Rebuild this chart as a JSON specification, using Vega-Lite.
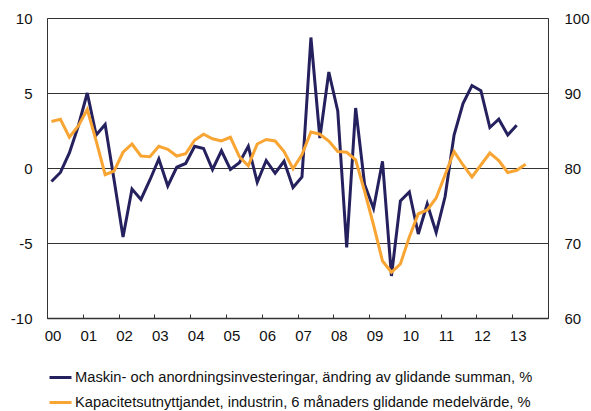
{
  "$schema": "https://vega.github.io/schema/vega-lite/v6.json",
  "width": 501,
  "height": 300,
  "autosize": {"type": "none"},
  "padding": {"left": 47, "top": 18, "right": 43, "bottom": 93},
  "background": "white",
  "config": {
    "font": "Liberation Sans",
    "view": {"stroke": "#333333", "strokeWidth": 1},
    "axis": {"labelFontSize": 15, "labelColor": "#111111", "labelFont": "Liberation Sans"},
    "axisX": {"labelOverlap": false, "labelBound": false}
  },
  "datasets": {
    "inv": [
      {"t": 2000.125, "v": -0.9}, {"t": 2000.375, "v": -0.3}, {"t": 2000.625, "v": 1.0}, {"t": 2000.875, "v": 2.8},
      {"t": 2001.125, "v": 5.0}, {"t": 2001.375, "v": 2.2}, {"t": 2001.625, "v": 2.9}, {"t": 2001.875, "v": -0.8},
      {"t": 2002.125, "v": -4.6}, {"t": 2002.375, "v": -1.4}, {"t": 2002.625, "v": -2.1}, {"t": 2002.875, "v": -0.8},
      {"t": 2003.125, "v": 0.6}, {"t": 2003.375, "v": -1.2}, {"t": 2003.625, "v": 0.05}, {"t": 2003.875, "v": 0.3},
      {"t": 2004.125, "v": 1.45}, {"t": 2004.375, "v": 1.3}, {"t": 2004.625, "v": -0.1}, {"t": 2004.875, "v": 1.15},
      {"t": 2005.125, "v": -0.1}, {"t": 2005.375, "v": 0.35}, {"t": 2005.625, "v": 1.45}, {"t": 2005.875, "v": -0.95},
      {"t": 2006.125, "v": 0.5}, {"t": 2006.375, "v": -0.35}, {"t": 2006.625, "v": 0.45}, {"t": 2006.875, "v": -1.3},
      {"t": 2007.125, "v": -0.6}, {"t": 2007.375, "v": 8.7}, {"t": 2007.625, "v": 2.0}, {"t": 2007.875, "v": 6.4},
      {"t": 2008.125, "v": 3.8}, {"t": 2008.375, "v": -5.3}, {"t": 2008.625, "v": 4.0}, {"t": 2008.875, "v": -1.1},
      {"t": 2009.125, "v": -2.7}, {"t": 2009.375, "v": 0.45}, {"t": 2009.625, "v": -7.2}, {"t": 2009.875, "v": -2.2},
      {"t": 2010.125, "v": -1.6}, {"t": 2010.375, "v": -4.4}, {"t": 2010.625, "v": -2.4}, {"t": 2010.875, "v": -4.3},
      {"t": 2011.125, "v": -1.9}, {"t": 2011.375, "v": 2.2}, {"t": 2011.625, "v": 4.3}, {"t": 2011.875, "v": 5.5},
      {"t": 2012.125, "v": 5.15}, {"t": 2012.375, "v": 2.7}, {"t": 2012.625, "v": 3.25}, {"t": 2012.875, "v": 2.2},
      {"t": 2013.125, "v": 2.85}
    ],
    "cap": [
      {"t": 2000.125, "v": 86.2}, {"t": 2000.375, "v": 86.5}, {"t": 2000.625, "v": 84.1}, {"t": 2000.875, "v": 85.6},
      {"t": 2001.125, "v": 87.8}, {"t": 2001.375, "v": 83.6}, {"t": 2001.625, "v": 79.1}, {"t": 2001.875, "v": 79.6},
      {"t": 2002.125, "v": 82.1}, {"t": 2002.375, "v": 83.2}, {"t": 2002.625, "v": 81.6}, {"t": 2002.875, "v": 81.5},
      {"t": 2003.125, "v": 82.9}, {"t": 2003.375, "v": 82.5}, {"t": 2003.625, "v": 81.6}, {"t": 2003.875, "v": 81.9},
      {"t": 2004.125, "v": 83.7}, {"t": 2004.375, "v": 84.5}, {"t": 2004.625, "v": 83.9}, {"t": 2004.875, "v": 83.6},
      {"t": 2005.125, "v": 84.1}, {"t": 2005.375, "v": 81.5}, {"t": 2005.625, "v": 80.3}, {"t": 2005.875, "v": 83.2},
      {"t": 2006.125, "v": 83.8}, {"t": 2006.375, "v": 83.6}, {"t": 2006.625, "v": 82.2}, {"t": 2006.875, "v": 79.9},
      {"t": 2007.125, "v": 81.8}, {"t": 2007.375, "v": 84.8}, {"t": 2007.625, "v": 84.5}, {"t": 2007.875, "v": 83.6},
      {"t": 2008.125, "v": 82.2}, {"t": 2008.375, "v": 82.1}, {"t": 2008.625, "v": 81.1}, {"t": 2008.875, "v": 76.9},
      {"t": 2009.125, "v": 72.4}, {"t": 2009.375, "v": 67.6}, {"t": 2009.625, "v": 66.1}, {"t": 2009.875, "v": 67.2},
      {"t": 2010.125, "v": 70.8}, {"t": 2010.375, "v": 73.9}, {"t": 2010.625, "v": 74.4}, {"t": 2010.875, "v": 76.0},
      {"t": 2011.125, "v": 79.1}, {"t": 2011.375, "v": 82.2}, {"t": 2011.625, "v": 80.4}, {"t": 2011.875, "v": 78.8},
      {"t": 2012.125, "v": 80.4}, {"t": 2012.375, "v": 82.0}, {"t": 2012.625, "v": 81.0}, {"t": 2012.875, "v": 79.4},
      {"t": 2013.125, "v": 79.7}, {"t": 2013.375, "v": 80.5}
    ]
  },
  "encoding": {
    "x": {
      "field": "t", "type": "quantitative",
      "scale": {"domain": [2000, 2014], "nice": false, "zero": false},
      "axis": {
        "title": null, "values": [2000, 2001, 2002, 2003, 2004, 2005, 2006, 2007, 2008, 2009, 2010, 2011, 2012, 2013],
        "format": "d", "labelExpr": "slice(datum.label, 2)", "labelOffset": 5.5, "labelAngle": 0,
        "tickSize": -4, "tickColor": "#333333", "tickWidth": 1, "grid": false, "domain": true, "domainColor": "#333333",
        "domainWidth": 1.5, "labelPadding": 14, "labelFlush": false, "labelOverlap": false, "labelBound": false
      }
    }
  },
  "layer": [
    {
      "data": {"name": "inv"},
      "mark": {"type": "line", "strokeWidth": 3, "strokeJoin": "miter"},
      "encoding": {
        "y": {
          "field": "v", "type": "quantitative",
          "scale": {"domain": [-10, 10], "nice": false, "zero": false},
          "axis": {
            "title": null, "values": [-10, -5, 0, 5, 10], "labelExpr": "'' + datum.value", "ticks": false, "domain": false,
            "grid": true, "gridColor": "#333333", "gridWidth": 1, "gridOpacity": 1, "labelPadding": 15
          }
        },
        "color": {
          "datum": "Maskin- och anordningsinvesteringar, ändring av glidande summan, %",
          "type": "nominal",
          "scale": {
            "domain": ["Maskin- och anordningsinvesteringar, ändring av glidande summan, %", "Kapacitetsutnyttjandet, industrin, 6 månaders glidande medelvärde, %"],
            "range": ["#25205E", "#F8A533"]
          },
          "legend": {
            "orient": "none", "legendX": 1, "legendY": 347, "direction": "vertical", "title": null,
            "symbolType": "stroke", "symbolStrokeWidth": 3, "symbolSize": 484, "labelFontSize": 14.7,
            "labelColor": "#111111", "labelLimit": 1000, "labelOffset": 2, "rowPadding": 5, "padding": 0
          }
        }
      }
    },
    {
      "data": {"name": "cap"},
      "mark": {"type": "line", "strokeWidth": 3, "strokeJoin": "miter"},
      "encoding": {
        "y": {
          "field": "v", "type": "quantitative",
          "scale": {"domain": [60, 100], "nice": false, "zero": false},
          "axis": {
            "title": null, "orient": "right", "values": [60, 70, 80, 90, 100], "ticks": false,
            "domain": false, "grid": false, "labelPadding": 16
          }
        },
        "color": {
          "datum": "Kapacitetsutnyttjandet, industrin, 6 månaders glidande medelvärde, %",
          "type": "nominal"
        }
      }
    }
  ],
  "resolve": {"scale": {"y": "independent"}}
}
